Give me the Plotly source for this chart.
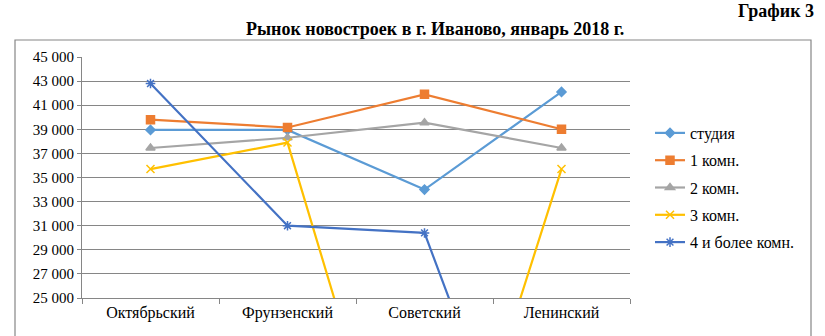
import plotly.graph_objects as go

categories = ["Октябрьский", "Фрунзенский", "Советский", "Ленинский"]
studio = [38950, 38950, 34000, 42100]
room1 = [39800, 39150, 41900, 39000]
room2 = [37450, 38300, 39550, 37450]
room3 = [35700, 37900, 0, 35700]
room4 = [42800, 31000, 30400, 0]

series = [
    ("студия", studio, "#5B9BD5", "diamond", 7),
    ("1 комн.", room1, "#ED7D31", "square", 8),
    ("2 комн.", room2, "#A5A5A5", "triangle-up", 8),
    ("3 комн.", room3, "#FFC000", "x-thin-open", 8),
    ("4 и более комн.", room4, "#4472C4", "asterisk-open", 8),
]

W, H = 825, 336
L, R, T, B = 82, 630, 57, 298
pw, ph = R - L, B - T

def px(x):
    return (x - L) / pw

def py(y):
    return (B - y) / ph

fig = go.Figure()
for name, vals, color, sym, size in series:
    fig.add_trace(go.Scatter(
        x=categories, y=vals, name=name, mode="lines+markers",
        legendgroup=name,
        line=dict(color=color, width=2.2),
        marker=dict(symbol=sym, size=size, color=color,
                    line=dict(color=color, width=1.5)),
        cliponaxis=True,
    ))

serif = "Times New Roman, Liberation Serif, DejaVu Serif, serif"
fig.update_layout(
    width=W, height=H,
    margin=dict(l=L, r=W - R, t=T, b=H - B),
    paper_bgcolor="white", plot_bgcolor="white",
    separators=", ",
    font=dict(family=serif, size=14, color="black"),
    showlegend=True,
    legend=dict(x=px(650), y=py(116), xanchor="left", yanchor="top",
                font=dict(family=serif, size=16, color="black"),
                tracegroupgap=3.5, itemwidth=30, bgcolor="rgba(0,0,0,0)"),
    xaxis=dict(type="category", tickson="boundaries", ticks="outside",
               ticklen=5, tickcolor="#868686", showline=True,
               linecolor="#868686", linewidth=1, showgrid=False,
               tickfont=dict(family=serif, size=16, color="black"),
               range=[-0.5, 3.5], fixedrange=True),
    yaxis=dict(range=[25000, 45000], dtick=2000, tick0=25000,
               tickformat=",d", ticks="outside", ticklen=4,
               tickcolor="#868686", showline=True, linecolor="#868686",
               linewidth=1, showgrid=True, gridcolor="#868686",
               gridwidth=1, zeroline=False,
               tickfont=dict(family=serif, size=15, color="black")),
    shapes=[dict(type="rect", xref="paper", yref="paper",
                 x0=px(15), x1=px(811), y0=py(345), y1=py(40),
                 line=dict(color="#868686", width=1.2),
                 fillcolor="rgba(0,0,0,0)", layer="below")],
    annotations=[
        dict(text="<b>График 3</b>", xref="paper", yref="paper",
             x=px(816), y=py(11), xanchor="right", yanchor="middle",
             showarrow=False, font=dict(family=serif, size=18, color="black")),
        dict(text="<b>Рынок новостроек в г. Иваново, январь 2018 г.</b>",
             xref="paper", yref="paper", x=px(435), y=py(29),
             xanchor="center", yanchor="middle", showarrow=False,
             font=dict(family=serif, size=18, color="black")),
    ],
)

fig.write_html("out.html")
